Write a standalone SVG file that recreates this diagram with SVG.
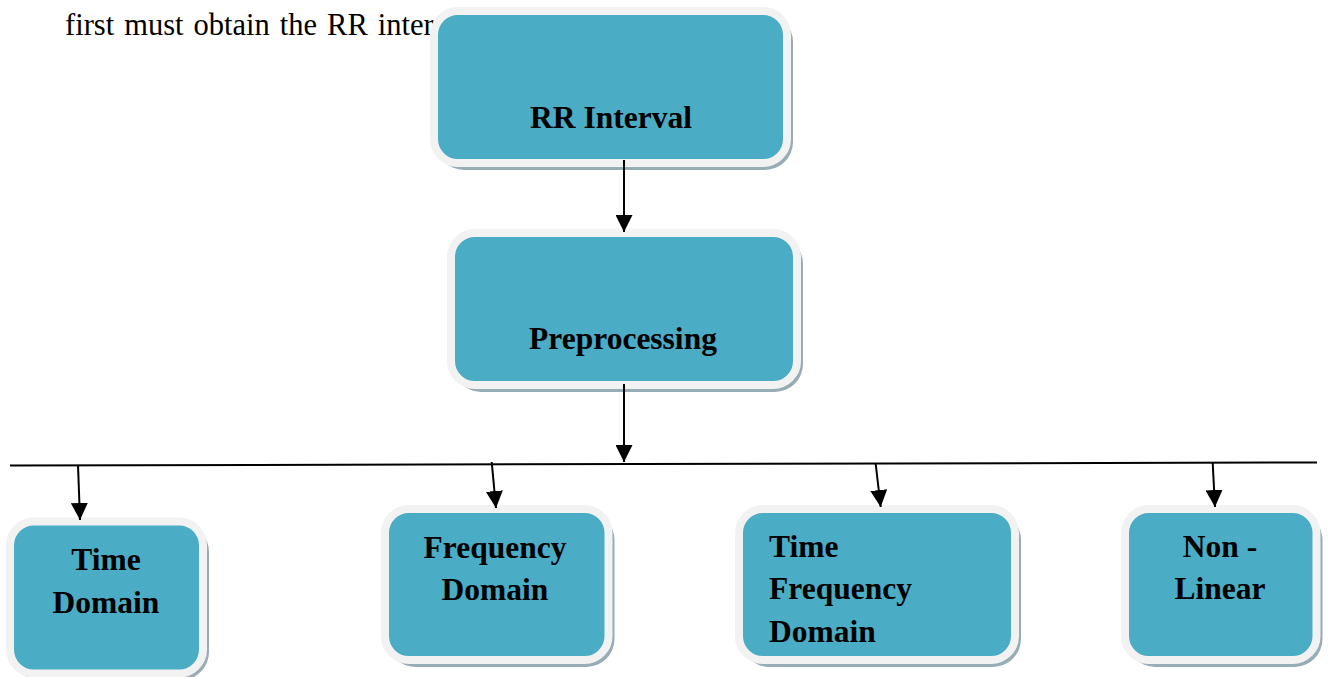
<svg xmlns="http://www.w3.org/2000/svg" width="1328" height="677" viewBox="0 0 1328 677">
<style>
.shadow{fill:#97adb6;}
.box{fill:#4bacc6;stroke:#f2f2f2;stroke-width:8;}
.lbl{font-family:"Liberation Serif","Times New Roman",serif;font-weight:bold;font-size:31.5px;fill:#000;}
.c{text-anchor:middle;}
.body{font-family:"Liberation Serif","Times New Roman",serif;font-size:30.5px;fill:#000;word-spacing:2.4px;}
.conn{stroke:#000;stroke-width:2;fill:none;}
</style>
<defs>
<marker id="ah" markerUnits="userSpaceOnUse" markerWidth="17" markerHeight="17" refX="17" refY="8.5" orient="auto" viewBox="0 0 17 17">
<path d="M0,0 L17,8.5 L0,17 z" fill="#000"/>
</marker>
</defs>
<rect width="1328" height="677" fill="#fff"/>
<text class="body" x="65" y="35">first must obtain the RR inter</text>
<g id="rr-interval">
<rect class="shadow" x="436" y="14" width="357" height="156" rx="28"/>
<rect class="box" x="434" y="11" width="353" height="152" rx="24"/>
<text class="lbl c" x="611" y="128">RR Interval</text>
</g>
<g id="preprocessing">
<rect class="shadow" x="453" y="236" width="350" height="156" rx="28"/>
<rect class="box" x="451" y="233" width="346" height="152" rx="24"/>
<text class="lbl c" x="623" y="349">Preprocessing</text>
</g>
<g id="time-domain">
<rect class="shadow" x="12" y="524" width="197" height="156" rx="28"/>
<rect class="box" x="10" y="521.5" width="193" height="152" rx="24"/>
<text class="lbl c" x="106" y="570">Time</text>
<text class="lbl c" x="106" y="613">Domain</text>
</g>
<g id="frequency-domain">
<rect class="shadow" x="387" y="512" width="227.5" height="155" rx="28"/>
<rect class="box" x="385" y="509" width="223.5" height="151" rx="24"/>
<text class="lbl c" x="495" y="558">Frequency</text>
<text class="lbl c" x="495" y="600">Domain</text>
</g>
<g id="time-frequency-domain">
<rect class="shadow" x="741" y="512" width="280" height="155" rx="28"/>
<rect class="box" x="739" y="509" width="276" height="151" rx="24"/>
<text class="lbl" x="769" y="557">Time</text>
<text class="lbl" x="769" y="599">Frequency</text>
<text class="lbl" x="769" y="641.5">Domain</text>
</g>
<g id="non-linear">
<rect class="shadow" x="1127" y="512" width="195.5" height="155" rx="28"/>
<rect class="box" x="1125" y="509" width="191.5" height="151" rx="24"/>
<text class="lbl c" x="1220" y="557">Non -</text>
<text class="lbl c" x="1220" y="599">Linear</text>
</g>
<g id="connectors">
<line class="conn" x1="624" y1="160" x2="624" y2="232" marker-end="url(#ah)"/>
<line class="conn" x1="624" y1="384" x2="624" y2="462" marker-end="url(#ah)"/>
<line class="conn" x1="10" y1="465.5" x2="1317" y2="462.5"/>
<line class="conn" x1="78" y1="465" x2="80" y2="520" marker-end="url(#ah)"/>
<line class="conn" x1="491.7" y1="462" x2="496" y2="508" marker-end="url(#ah)"/>
<line class="conn" x1="875.7" y1="464" x2="880.7" y2="507" marker-end="url(#ah)"/>
<line class="conn" x1="1212.7" y1="463" x2="1215" y2="507" marker-end="url(#ah)"/>
</g>
</svg>
